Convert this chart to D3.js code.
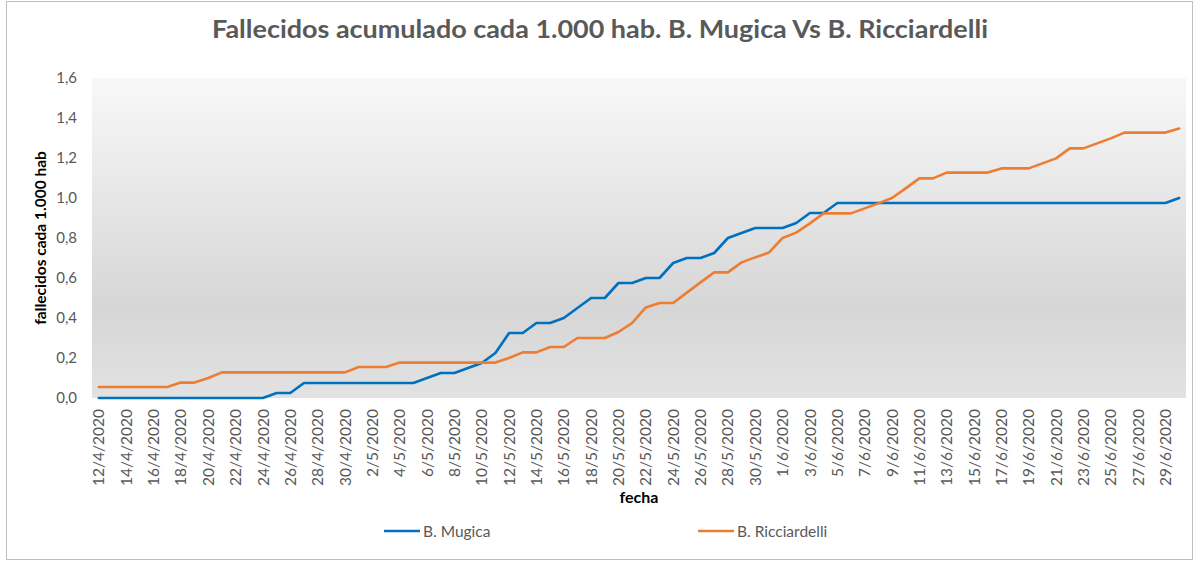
<!DOCTYPE html>
<html>
<head>
<meta charset="utf-8">
<script src="https://cdn.jsdelivr.net/npm/d3@7"></script>
<style>
  html, body { margin: 0; padding: 0; background: #ffffff; }
  svg { display: block; }
  text { font-family: Lato, "Open Sans", sans-serif; }
</style>
</head>
<body>
<svg id="chart" width="1198" height="562"></svg>
<script>
const dates = [
  "12/4/2020","13/4/2020","14/4/2020","15/4/2020","16/4/2020","17/4/2020","18/4/2020","19/4/2020","20/4/2020","21/4/2020",
  "22/4/2020","23/4/2020","24/4/2020","25/4/2020","26/4/2020","27/4/2020","28/4/2020","29/4/2020","30/4/2020","1/5/2020",
  "2/5/2020","3/5/2020","4/5/2020","5/5/2020","6/5/2020","7/5/2020","8/5/2020","9/5/2020","10/5/2020","11/5/2020",
  "12/5/2020","13/5/2020","14/5/2020","15/5/2020","16/5/2020","17/5/2020","18/5/2020","19/5/2020","20/5/2020","21/5/2020",
  "22/5/2020","23/5/2020","24/5/2020","25/5/2020","26/5/2020","27/5/2020","28/5/2020","29/5/2020","30/5/2020","31/5/2020",
  "1/6/2020","2/6/2020","3/6/2020","4/6/2020","5/6/2020","6/6/2020","7/6/2020","8/6/2020","9/6/2020","10/6/2020",
  "11/6/2020","12/6/2020","13/6/2020","14/6/2020","15/6/2020","16/6/2020","17/6/2020","18/6/2020","19/6/2020","20/6/2020",
  "21/6/2020","22/6/2020","23/6/2020","24/6/2020","25/6/2020","26/6/2020","27/6/2020","28/6/2020","29/6/2020","30/6/2020"
];

const mugica = [
  0,0,0,0,0,0,0,0,0,0,
  0,0,0,0.025,0.025,0.075,0.075,0.075,0.075,0.075,
  0.075,0.075,0.075,0.075,0.10,0.125,0.125,0.15,0.175,0.225,
  0.325,0.325,0.375,0.375,0.40,0.45,0.50,0.50,0.575,0.575,
  0.60,0.60,0.675,0.70,0.70,0.725,0.80,0.825,0.85,0.85,
  0.85,0.875,0.925,0.925,0.975,0.975,0.975,0.975,0.975,0.975,
  0.975,0.975,0.975,0.975,0.975,0.975,0.975,0.975,0.975,0.975,
  0.975,0.975,0.975,0.975,0.975,0.975,0.975,0.975,0.975,1.0
];

const ricciardelli = [
  0.055,0.055,0.055,0.055,0.055,0.055,0.077,0.077,0.10,0.128,
  0.128,0.128,0.128,0.128,0.128,0.128,0.128,0.128,0.128,0.155,
  0.155,0.155,0.177,0.177,0.177,0.177,0.177,0.177,0.177,0.177,
  0.20,0.228,0.228,0.255,0.255,0.30,0.30,0.30,0.33,0.375,
  0.453,0.475,0.475,0.527,0.578,0.628,0.628,0.678,0.703,0.727,
  0.80,0.827,0.873,0.923,0.923,0.923,0.948,0.973,1.0,1.048,
  1.098,1.098,1.127,1.127,1.127,1.127,1.148,1.148,1.148,1.173,
  1.198,1.248,1.248,1.273,1.298,1.327,1.327,1.327,1.327,1.347
];

const yTicks = [0, 0.2, 0.4, 0.6, 0.8, 1.0, 1.2, 1.4, 1.6];
const xTickLabels = dates.filter((d, i) => i % 2 === 0);

const seriesNames = ["B. Mugica", "B. Ricciardelli"];
const seriesColors = ["#0070c0", "#ed7d31"];

const title = "Fallecidos acumulado cada 1.000 hab. B. Mugica Vs B. Ricciardelli";
const yTitle = "fallecidos cada 1.000 hab";
const xTitle = "fecha";

const svg = d3.select("#chart");
const W = 1198, H = 562;
const plot = { left: 92, right: 1186, top: 78, bottom: 398 };

// outer chart border
svg.append("rect")
  .attr("x", 6.5).attr("y", 1.5).attr("width", 1186).attr("height", 558)
  .attr("fill", "#ffffff").attr("stroke", "#bfbfbf").attr("stroke-width", 1);

// gradient plot background
const defs = svg.append("defs");
const grad = defs.append("linearGradient").attr("id", "bg")
  .attr("x1", 0).attr("y1", 0).attr("x2", 0).attr("y2", 1);
grad.append("stop").attr("offset", "0%").attr("stop-color", "#f8f8f8");
grad.append("stop").attr("offset", "72%").attr("stop-color", "#d6d6d6");
grad.append("stop").attr("offset", "100%").attr("stop-color", "#e2e2e2");

svg.append("rect")
  .attr("x", plot.left).attr("y", plot.top)
  .attr("width", plot.right - plot.left).attr("height", plot.bottom - plot.top)
  .attr("fill", "url(#bg)");

const x = d3.scaleBand().domain(dates).range([plot.left, plot.right]).padding(0);
const y = d3.scaleLinear().domain([0, 1.6]).range([plot.bottom, plot.top]);
const cx = d => x(d) + x.bandwidth() / 2;

const fmt = v => d3.format(".1f")(v).replace(".", ",");

// Y axis
const yAxis = svg.append("g")
  .attr("transform", `translate(${plot.left},0)`)
  .call(d3.axisLeft(y).tickValues(yTicks).tickSize(0).tickPadding(15).tickFormat(fmt));
yAxis.select(".domain").remove();
yAxis.selectAll("text")
  .attr("fill", "#595959")
  .style("font-size", "15px")
  .style("font-family", "Lato, sans-serif");

// X axis
const xAxis = svg.append("g")
  .attr("transform", `translate(0,${plot.bottom})`)
  .call(d3.axisBottom(x).tickValues(xTickLabels).tickSize(0).tickPadding(0));
xAxis.select(".domain").remove();
xAxis.selectAll("text")
  .attr("fill", "#595959")
  .style("font-size", "15.5px")
  .style("font-family", "Lato, sans-serif")
  .attr("text-anchor", "end")
  .attr("transform", "rotate(-90)")
  .attr("x", -11)
  .attr("y", 0)
  .attr("dy", "0.36em");

// lines
const series = [mugica, ricciardelli];
const line = d3.line()
  .x((v, i) => cx(dates[i]))
  .y(v => y(v));

series.forEach((s, k) => {
  svg.append("path")
    .datum(s)
    .attr("fill", "none")
    .attr("stroke", seriesColors[k])
    .attr("stroke-width", 2.6)
    .attr("stroke-linejoin", "round")
    .attr("stroke-linecap", "round")
    .attr("d", line);
});

// title
svg.append("text")
  .attr("x", 600).attr("y", 38)
  .attr("text-anchor", "middle")
  .attr("fill", "#595959")
  .style("font-size", "24px")
  .style("font-weight", "bold")
  .attr("textLength", 776)
  .attr("lengthAdjust", "spacingAndGlyphs")
  .text(title);

// y title
svg.append("text")
  .attr("transform", `translate(46,${(plot.top + plot.bottom) / 2}) rotate(-90)`)
  .attr("text-anchor", "middle")
  .attr("fill", "#000000")
  .style("font-size", "15.5px")
  .style("font-weight", "bold")
  .text(yTitle);

// x title
svg.append("text")
  .attr("x", (plot.left + plot.right) / 2).attr("y", 503)
  .attr("text-anchor", "middle")
  .attr("fill", "#000000")
  .style("font-size", "16px")
  .style("font-weight", "bold")
  .text(xTitle);

// legend
const legendX = [384, 698];
seriesNames.forEach((name, k) => {
  const g = svg.append("g").attr("transform", `translate(${legendX[k]},531)`);
  g.append("line").attr("x1", 0).attr("x2", 36).attr("y1", 0).attr("y2", 0)
    .attr("stroke", seriesColors[k]).attr("stroke-width", 2.6);
  g.append("text").attr("x", 39).attr("y", 0).attr("dy", "0.36em")
    .attr("fill", "#595959")
    .style("font-size", "15.5px")
    .text(name);
});
</script>
</body>
</html>
